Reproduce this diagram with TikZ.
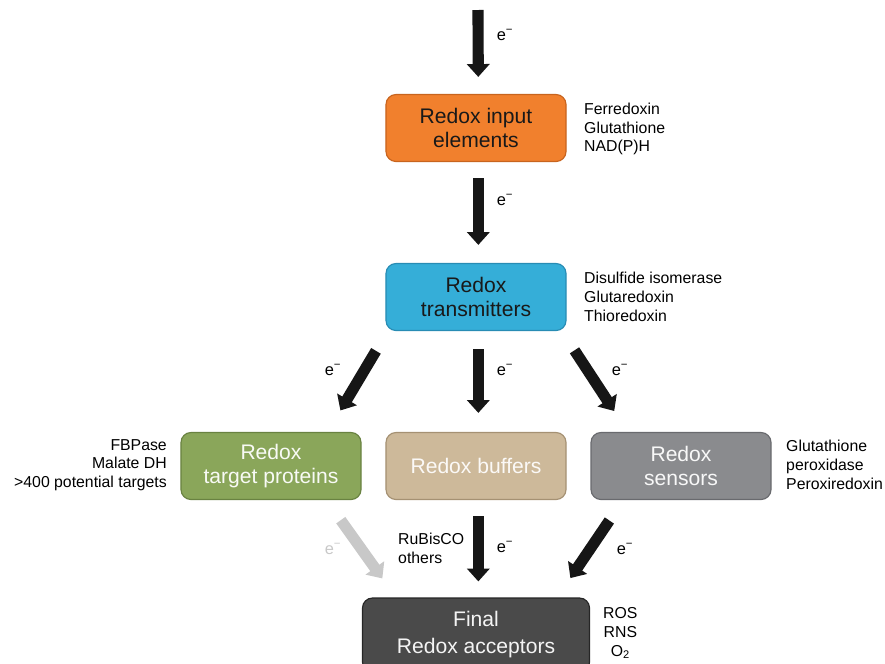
\documentclass[tikz,border=0pt]{standalone}
\usepackage{fontspec}
\setmainfont{Liberation Sans}
\usepackage{tikz}
\usetikzlibrary{arrows.meta}

\definecolor{inpfill}{RGB}{241,128,45}
\definecolor{inpdraw}{RGB}{200,100,30}
\definecolor{trfill}{RGB}{53,174,216}
\definecolor{trdraw}{RGB}{40,140,180}
\definecolor{tgfill}{RGB}{138,166,90}
\definecolor{tgdraw}{RGB}{105,130,65}
\definecolor{buffill}{RGB}{205,185,154}
\definecolor{bufdraw}{RGB}{165,145,115}
\definecolor{senfill}{RGB}{138,139,142}
\definecolor{sendraw}{RGB}{105,106,110}
\definecolor{finfill}{RGB}{74,74,74}
\definecolor{arrowdark}{RGB}{22,22,22}
\definecolor{arrowlight}{RGB}{200,200,200}

\begin{document}
\begin{tikzpicture}[x=0.03cm,y=-0.03cm]
\tikzstyle{box}=[draw,rounded corners=0.3cm,line width=1pt,minimum width=5.4cm,minimum height=2.01cm,align=center,font=\fontsize{18}{20}\selectfont]
\tikzstyle{side}=[inner sep=0pt,font=\fontsize{13.5}{16}\selectfont]
\tikzstyle{elab}=[inner sep=0pt,font=\fontsize{14}{16}\selectfont]
\tikzstyle{bigarrow}=[draw=arrowdark,line width=9.5pt,-{Triangle[width=19pt,length=11pt]}]
    \useasboundingbox (0,0) rectangle (885,664);
    % boxes
    \node[box,fill=inpfill,draw=inpdraw,text=black!90](inp) at (476,128){Redox input\\elements};
    \node[box,fill=trfill,draw=trdraw,text=black!90](trans) at (476,297){Redox\\transmitters};
    \node[box,fill=tgfill,draw=tgdraw,text=white!94!tgfill](target) at (271,466){Redox\\target proteins};
    \node[box,fill=buffill,draw=bufdraw,text=white!92!buffill](buf) at (476,466){Redox buffers};
    \node[box,fill=senfill,draw=sendraw,text=white!94!senfill](sens) at (681,466){Redox\\sensors};
    \node[box,fill=finfill,draw=black!85,text=white!94!finfill,minimum width=6.81cm,minimum height=2.22cm,font=\fontsize{18}{23}\selectfont](fin) at (476,635){Final\\Redox acceptors};
    % side lists
    \node[side,anchor=west,align=left](l1) at (584,129){Ferredoxin\\Glutathione\\NAD(P)H};
    \node[side,anchor=west,align=left](l2) at (584,297){Disulfide isomerase\\Glutaredoxin\\Thioredoxin};
    \node[side,anchor=east,align=right](l3) at (167,465){FBPase\\Malate DH\\>400 potential targets};
    \node[side,anchor=west,align=left](l4) at (786,465){Glutathione\\peroxidase\\Peroxiredoxin};
    \node[side,anchor=west,align=left](l5) at (398,548){RuBisCO\\others};
    \node[side,anchor=west,align=center](l6) at (603,633){ROS\\RNS\\O\textsubscript{2}};
    % arrows
    \coordinate(src) at (478,10);
    \draw[bigarrow,shorten >=0.51cm](src) -- ([xshift=2]inp.north);
    \draw[bigarrow,shorten <=0.48cm,shorten >=0.54cm]([xshift=2]inp.south) -- ([xshift=2]trans.north);
    \draw[bigarrow,shorten <=0.69cm,shorten >=0.75cm]([xshift=2]trans.south west) -- ([xshift=-29]target.north east);
    \draw[bigarrow,shorten <=0.54cm,shorten >=0.57cm]([xshift=2]trans.south) -- ([xshift=2]buf.north);
    \draw[bigarrow,shorten <=0.69cm,shorten >=0.75cm]([xshift=-4]trans.south east) -- ([xshift=32]sens.north west);
    \draw[bigarrow,draw=arrowlight,shorten <=0.74cm,shorten >=0.70cm]([xshift=-30]target.south east) -- ([xshift=29]fin.north west);
    \draw[bigarrow,shorten <=0.48cm,shorten >=0.48cm]([xshift=2]buf.south) -- ([xshift=2]fin.north);
    \draw[bigarrow,shorten <=0.74cm,shorten >=0.70cm]([xshift=28]sens.south west) -- ([xshift=-28]fin.north east);
    % electron labels
    \node[elab](e1) at (505,35){e\textsuperscript{−}};
    \node[elab](e2) at (505,200){e\textsuperscript{−}};
    \node[elab](e3) at (333,370){e\textsuperscript{−}};
    \node[elab](e4) at (505,370){e\textsuperscript{−}};
    \node[elab](e5) at (620,370){e\textsuperscript{−}};
    \node[elab,text=arrowlight](e6) at (333,549){e\textsuperscript{−}};
    \node[elab](e7) at (505,547){e\textsuperscript{−}};
    \node[elab](e8) at (625,549){e\textsuperscript{−}};
\end{tikzpicture}
\end{document}
